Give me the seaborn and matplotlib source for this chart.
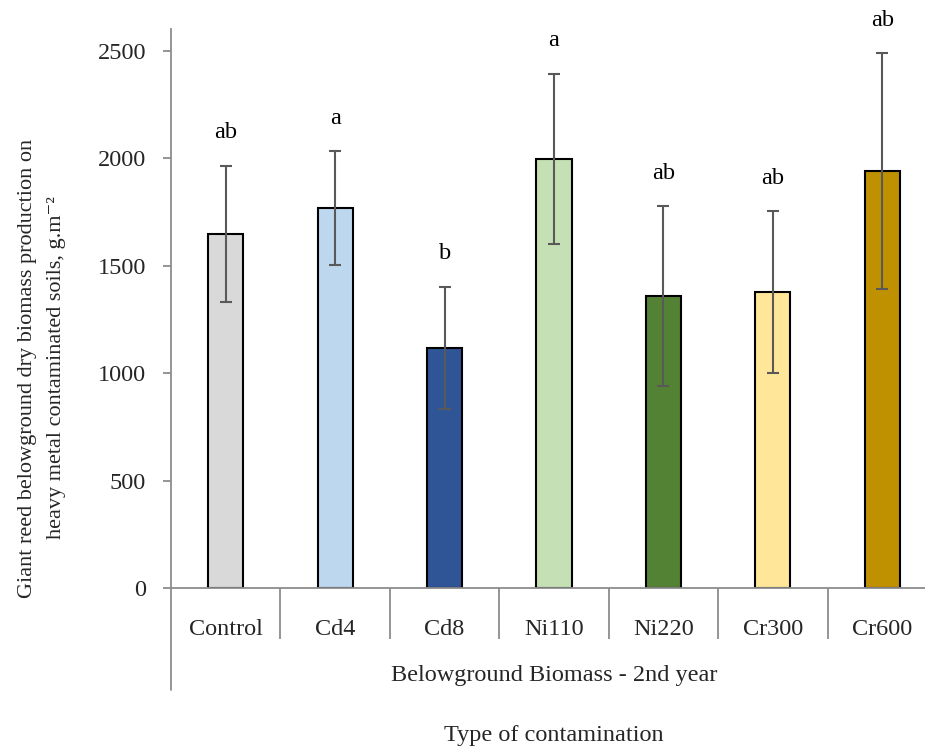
import matplotlib
matplotlib.use("Agg")
import matplotlib.pyplot as plt
import matplotlib.transforms as mtransforms
import seaborn as sns
import pandas as pd

categories = ["Control", "Cd4", "Cd8", "Ni110", "Ni220", "Cr300", "Cr600"]
means = [1648, 1769, 1117, 1997, 1359, 1378, 1941]
errors = [317, 265, 286, 396, 417, 375, 547]
letters = ["ab", "a", "b", "a", "ab", "ab", "ab"]
colors = ["#D9D9D9", "#BDD7EE", "#2F5597", "#C5E0B4", "#548235", "#FFE699", "#BF9000"]
yticks = [0, 500, 1000, 1500, 2000, 2500]
group_label = "Belowground Biomass - 2nd year"
xlabel = "Type of contamination"
ylabel = "Giant reed belowground dry biomass production on\nheavy metal contaminated soils, g.m\u207b\u00b2"

sns.set_style("white")
plt.rcParams["font.family"] = ["Liberation Serif", "DejaVu Serif"]

W, H = 925, 746
fig = plt.figure(figsize=(W / 100, H / 100), dpi=100)
ax_l, ax_r, ax_t, ax_b = 171, 925, 29, 588
ax = fig.add_axes([ax_l / W, 1 - ax_b / H, (ax_r - ax_l) / W, (ax_b - ax_t) / H])

df = pd.DataFrame({"cat": categories, "val": means})
sns.barplot(data=df, x="cat", y="val", hue="cat", palette=colors, order=categories,
            hue_order=categories, width=0.32, edgecolor="black", linewidth=1.5,
            saturation=1, legend=False, ax=ax, errorbar=None)

gray = "#595959"
ax.errorbar(range(len(categories)), means, yerr=errors, fmt="none", ecolor=gray,
            elinewidth=1.5, capsize=4.5, capthick=1.5, zorder=5)

fs = 17.5
for i, (m, e, t) in enumerate(zip(means, errors, letters)):
    ax.annotate(t, xy=(i, m + e), xytext=(0, 33), textcoords="offset pixels",
                ha="center", va="center", fontsize=fs, color="black", annotation_clip=False)

ax.set_xlim(-0.5, 6.5 - 12 / 109.4)
ax.set_ylim(0, 2602)
ax.set_yticks(yticks)
ax.set_yticklabels([str(v) for v in yticks], fontsize=fs)
ax.set_xticks(range(len(categories)))
ax.set_xticklabels(categories, fontsize=fs)
ax.set_xticks([k + 0.5 for k in range(len(categories) - 1)], minor=True)
ax.tick_params(axis="x", which="major", bottom=True, length=0, pad=22)
ax.tick_params(axis="x", which="minor", bottom=True, length=37, width=1.3,
               color="#8C8C8C", direction="out")
ax.tick_params(axis="y", which="major", left=True, length=6, width=1.3,
               color="#8C8C8C", direction="out", pad=12)
ax.set_xlabel("")
ax.set_ylabel("")

for s in ["top", "right"]:
    ax.spines[s].set_visible(False)
for s in ["left", "bottom"]:
    ax.spines[s].set_color("#8C8C8C")
    ax.spines[s].set_linewidth(1.3)

axh = ax_b - ax_t
ax.plot([0, 0], [0, -(690 - ax_b) / axh], transform=ax.transAxes, color="#8C8C8C",
        lw=1.3, clip_on=False)

trans = mtransforms.blended_transform_factory(ax.transData, ax.transAxes)
ax.text(3, -(676 - ax_b) / axh, group_label, transform=trans, ha="center", va="center", fontsize=fs)

fig.text(554 / W, 1 - 735 / H, xlabel, ha="center", va="center", fontsize=fs)
fig.text(42 / W, 1 - 368 / H, ylabel, ha="center", va="center", rotation=90, fontsize=16,
         multialignment="center", linespacing=1.75)

fig.savefig("out.png", dpi=100)
